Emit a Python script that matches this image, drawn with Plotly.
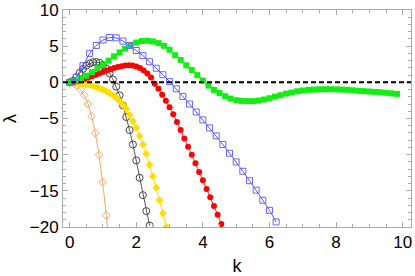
import plotly.graph_objects as go

# ---- data ----
k_green = [0, 0.167, 0.333, 0.5, 0.667, 0.833, 1.0, 1.167, 1.333, 1.5, 1.667, 1.833, 2.0, 2.167, 2.333,
           2.5, 2.667, 2.833, 3.0, 3.167, 3.333, 3.5, 3.667, 3.833, 4.0, 4.167, 4.333, 4.5, 4.667, 4.833,
           5.0, 5.167, 5.333, 5.5, 5.667, 5.833, 6.0, 6.167, 6.333, 6.5, 6.667, 6.833, 7.0, 7.167, 7.333,
           7.5, 7.667, 7.833, 8.0, 8.167, 8.333, 8.5, 8.667, 8.833, 9.0, 9.167, 9.333, 9.5, 9.667, 9.833]
lam_green = [0, 0.2, 0.5, 0.92, 1.4, 1.95, 2.45, 3.0, 3.6, 4.15, 4.65, 5.15, 5.5, 5.7, 5.76,
             5.65, 5.42, 5.05, 4.5, 3.75, 3.1, 2.35, 1.7, 1.0, 0.25, -0.45, -1.05, -1.48, -1.92, -2.24,
             -2.47, -2.57, -2.6, -2.6, -2.52, -2.38, -2.2, -1.97, -1.78, -1.56, -1.41, -1.24, -1.13, -1.04, -1.0,
             -0.96, -0.95, -0.95, -0.97, -1.0, -1.03, -1.1, -1.17, -1.22, -1.27, -1.32, -1.37, -1.45, -1.53, -1.6]

k_blue = [0, 0.2, 0.4, 0.6, 0.8, 1.0, 1.2, 1.4, 1.6, 1.8, 2.0, 2.2, 2.4, 2.6, 2.8, 3.0, 3.2, 3.4,
          3.6, 3.8, 4.0, 4.2, 4.4, 4.6, 4.8, 5.0, 5.2, 5.4, 5.6, 5.8, 6.0, 6.2]
lam_blue = [0, 0.7, 2.3, 4.0, 5.1, 5.85, 6.2, 6.15, 5.7, 5.1, 4.4, 3.7, 2.85, 1.95, 1.05, 0.1, -0.9, -1.95,
            -3.0, -4.1, -5.2, -6.3, -7.4, -8.6, -9.8, -11.0, -12.3, -13.6, -14.9, -16.3, -17.7, -19.3]

k_red = [0, 0.111, 0.222, 0.333, 0.444, 0.556, 0.667, 0.778, 0.889, 1.0, 1.111, 1.222, 1.333, 1.444,
         1.556, 1.667, 1.778, 1.889, 2.0, 2.111, 2.222, 2.333, 2.444, 2.556, 2.667, 2.778, 2.889, 3.0,
         3.111, 3.222, 3.333, 3.444, 3.556, 3.667, 3.778, 3.889, 4.0, 4.111, 4.222, 4.333, 4.444, 4.556]
lam_red = [0, 0.04, 0.14, 0.3, 0.47, 0.65, 0.84, 1.03, 1.22, 1.42, 1.62, 1.8, 1.97, 2.12,
           2.24, 2.32, 2.35, 2.32, 2.2, 1.98, 1.65, 1.22, 0.68, -0.2, -0.9, -1.7, -2.55, -3.45,
           -4.4, -5.5, -6.6, -7.75, -8.9, -10.0, -11.2, -12.4, -13.55, -14.75, -15.9, -17.1, -18.3, -19.6]

k_yellow = [0, 0.1, 0.2, 0.3, 0.4, 0.5, 0.6, 0.7, 0.8, 0.9, 1.0, 1.1, 1.2, 1.3, 1.4, 1.5, 1.6, 1.7,
            1.8, 1.9, 2.0, 2.1, 2.2, 2.3, 2.4, 2.5, 2.6, 2.7, 2.8, 2.9]
lam_yellow = [0, -0.02, -0.06, -0.12, -0.2, -0.3, -0.4, -0.52, -0.66, -0.82, -1.0, -1.22, -1.48, -1.78,
              -2.15, -2.6, -3.1, -3.7, -4.5, -5.35, -6.3, -7.4, -8.6, -9.9, -11.4, -13.0, -14.6, -16.3,
              -18.1, -20.0]

k_black = [0, 0.1, 0.2, 0.3, 0.4, 0.5, 0.6, 0.7, 0.8, 0.9, 1.0, 1.1, 1.2, 1.3, 1.4, 1.5, 1.6, 1.7,
           1.8, 1.9, 2.0, 2.1, 2.2, 2.3, 2.4]
lam_black = [0, 0.2, 0.7, 1.3, 1.85, 2.3, 2.6, 2.78, 2.8, 2.7, 2.4, 1.9, 1.25, 0.4, -0.6, -1.8, -3.2,
             -4.8, -6.6, -8.6, -10.8, -13.2, -15.6, -17.8, -19.8]

k_orange = [0, 0.11, 0.22, 0.33, 0.44, 0.55, 0.66, 0.77, 0.88, 0.99, 1.1, 1.21]
lam_orange = [0, -0.12, -0.45, -1.0, -1.8, -3.0, -4.7, -7.0, -10.0, -13.8, -18.4, -23.5]

x_ticks = [0, 2, 4, 6, 8, 10]
y_ticks = [-20, -15, -10, -5, 0, 5, 10]

FONT = "Liberation Sans, Arial, sans-serif"

fig = go.Figure()

def add(k, lam, color, linecolor, symbol, size, lw=1, mlw=1):
    fig.add_trace(go.Scatter(
        x=k, y=lam, mode="lines+markers",
        line=dict(color=linecolor, width=lw),
        marker=dict(symbol=symbol, size=size, color=color, line=dict(color=color, width=mlw)),
        showlegend=False, cliponaxis=True))

add(k_orange, lam_orange, "#FFA860", "#FFA860", "diamond-open", 6)
add(k_black, lam_black, "#444444", "#555555", "circle-open", 7)
add(k_yellow, lam_yellow, "#FFDD00", "#FFDD00", "diamond", 6, mlw=0)
add(k_red, lam_red, "#FF0000", "#FF3030", "circle", 6, mlw=0)
add(k_green, lam_green, "#11EE11", "#55EE55", "square", 6, mlw=0)
add(k_blue, lam_blue, "#6666FF", "#5555FF", "square-open", 6)

fig.add_hline(y=0, line=dict(color="black", width=2, dash="5px,3px"))

axis_common = dict(
    showline=True, linecolor="#AAAAAA", linewidth=1, mirror="allticks",
    ticks="inside", ticklen=5, tickcolor="#AAAAAA", tickwidth=1,
    showgrid=False, zeroline=False, automargin=False,
    tickfont=dict(family=FONT, size=17, color="black"),
)

fig.update_xaxes(range=[-0.2, 10.25], tickvals=x_ticks, ticktext=[str(v) for v in x_ticks],
                 minor=dict(ticks="inside", ticklen=3, tickcolor="#AAAAAA", dtick=0.5, tick0=0),
                 title=dict(text="k", font=dict(family=FONT, size=18, color="black"), standoff=7),
                 **axis_common)
fig.update_yaxes(range=[-20, 10], tickvals=y_ticks,
                 ticktext=["\u221220", "\u221215", "\u221210", "\u22125", "0", "5", "10"],
                 minor=dict(ticks="inside", ticklen=3, tickcolor="#AAAAAA", dtick=1, tick0=0),
                 title=dict(text="\u03bb", font=dict(family=FONT, size=18, color="black"), standoff=18),
                 **axis_common)

fig.update_layout(
    width=415, height=276,
    margin=dict(l=63, r=4, t=10, b=49),
    plot_bgcolor="white", paper_bgcolor="white",
)

# remove the default page margin so the figure fills the window exactly
fig.write_html("out.html", config={"displayModeBar": False},
               post_script="document.body.style.margin='0';document.body.style.overflow='hidden';")
